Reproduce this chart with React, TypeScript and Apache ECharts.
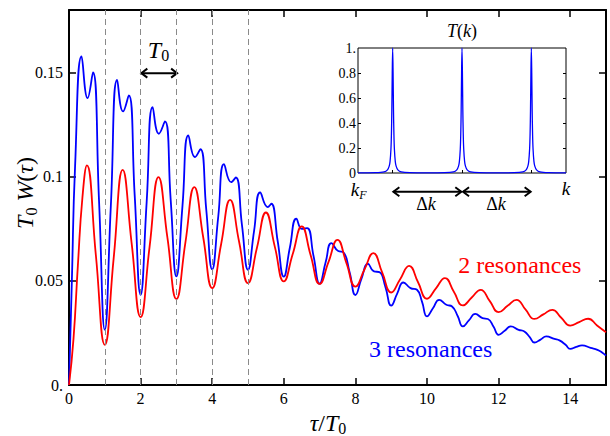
import React, { useEffect, useRef } from "react";
import * as echarts from "echarts";

// ---- main plot data ----
const redX = [0, 0.125, 0.25, 0.375, 0.5, 0.75, 1, 1.25, 1.5, 1.75, 2, 2.25, 2.5, 2.75, 3, 3.25, 3.5, 3.75, 4, 4.25, 4.5, 4.75, 5, 5.25, 5.5, 5.75, 6, 6.25, 6.5, 6.75, 7, 7.25, 7.5, 7.75, 8, 8.25, 8.5, 8.75, 9, 9.25, 9.5, 9.75, 10, 10.25, 10.5, 10.75, 11, 11.25, 11.5, 11.75, 12, 12.25, 12.5, 12.75, 13, 13.25, 13.5, 13.75, 14, 14.25, 14.5, 14.75, 15];
const redY = [0, 0.022, 0.058, 0.09, 0.1054, 0.0624, 0.0193, 0.0613, 0.1033, 0.068, 0.0326, 0.0662, 0.0998, 0.0706, 0.0413, 0.0682, 0.095, 0.0708, 0.0465, 0.0677, 0.0889, 0.0689, 0.0489, 0.0659, 0.0828, 0.0663, 0.0497, 0.0629, 0.0761, 0.0623, 0.0485, 0.0591, 0.0697, 0.0585, 0.0472, 0.0553, 0.0633, 0.0539, 0.0444, 0.0508, 0.0572, 0.0493, 0.0414, 0.0464, 0.0513, 0.0448, 0.0382, 0.042, 0.0457, 0.0404, 0.035, 0.038, 0.0409, 0.0363, 0.0317, 0.0339, 0.0361, 0.0323, 0.0285, 0.0302, 0.0318, 0.0286, 0.0253];

const blueX = [
  0, 0.08, 0.17, 0.35, 0.52, 0.67, 0.84,
  1, 1.17, 1.345, 1.51, 1.67, 1.835,
  2, 2.17, 2.336, 2.51, 2.68, 2.84,
  3, 3.17, 3.334, 3.52, 3.67, 3.835,
  4, 4.17, 4.33, 4.53, 4.66, 4.83,
  5, 5.17, 5.34, 5.55, 5.65, 5.83,
  6, 6.17, 6.35, 6.51, 6.65, 6.83,
  7, 7.17, 7.33, 7.52, 7.66, 7.84,
  8, 8.17, 8.35, 8.52, 8.67, 8.84,
  9, 9.17, 9.34, 9.54, 9.72, 9.86,
  10, 10.17, 10.34, 10.54, 10.7, 10.86,
  11, 11.17, 11.35, 11.55, 11.7, 11.86,
  12, 12.17, 12.34, 12.56, 12.72, 12.87,
  13, 13.17, 13.33, 13.56, 13.7, 13.87,
  14, 14.17, 14.33, 14.57, 14.76, 14.9,
  15,
];
const blueY = [
  0, 0.05, 0.105, 0.1577, 0.1377, 0.15, 0.088,
  0.0265, 0.0865, 0.1465, 0.1313, 0.139, 0.091,
  0.0433, 0.088, 0.1334, 0.1206, 0.1265, 0.089,
  0.0521, 0.086, 0.1198, 0.1094, 0.1132, 0.084,
  0.0555, 0.081, 0.106, 0.0974, 0.0996, 0.077,
  0.0553, 0.074, 0.0924, 0.0854, 0.087, 0.069,
  0.052, 0.066, 0.0798, 0.0749, 0.0753, 0.062,
  0.0486, 0.059, 0.0681, 0.0643, 0.0638, 0.054,
  0.0432, 0.051, 0.0582, 0.0545, 0.0542, 0.047,
  0.0381, 0.044, 0.0492, 0.0465, 0.0457, 0.04,
  0.0329, 0.037, 0.0409, 0.0385, 0.0377, 0.033,
  0.0281, 0.031, 0.0341, 0.0321, 0.0317, 0.028,
  0.0241, 0.026, 0.0281, 0.0265, 0.0257, 0.023,
  0.0204, 0.0218, 0.0233, 0.0221, 0.0214, 0.0193,
  0.0173, 0.0183, 0.019, 0.0178, 0.0169, 0.0155,
  0.0141,
];

// ---- inset T(k) data ----
const tkX = [0, 0.5, 0.75, 0.85, 0.9, 0.925, 0.95, 0.964, 0.976, 0.988, 1, 1.012, 1.024, 1.036, 1.05, 1.075, 1.1, 1.15, 1.25, 1.5, 2, 2.5, 2.75, 2.85, 2.9, 2.925, 2.95, 2.964, 2.976, 2.988, 3, 3.012, 3.024, 3.036, 3.05, 3.075, 3.1, 3.15, 3.25, 3.5, 4, 4.5, 4.75, 4.85, 4.9, 4.925, 4.95, 4.964, 4.976, 4.988, 5, 5.012, 5.024, 5.036, 5.05, 5.075, 5.1, 5.15, 5.25, 5.5, 6];
const tkY = [0.0006, 0.0023, 0.009, 0.025, 0.055, 0.093, 0.19, 0.31, 0.5, 0.8, 1, 0.8, 0.5, 0.31, 0.19, 0.093, 0.055, 0.025, 0.009, 0.0023, 0.0007, 0.0023, 0.009, 0.025, 0.055, 0.093, 0.19, 0.31, 0.5, 0.8, 1, 0.8, 0.5, 0.31, 0.19, 0.093, 0.055, 0.025, 0.009, 0.0023, 0.0007, 0.0023, 0.009, 0.025, 0.055, 0.093, 0.19, 0.31, 0.5, 0.8, 1, 0.8, 0.5, 0.31, 0.19, 0.093, 0.055, 0.025, 0.009, 0.0023, 0.0006];

// ---- ticks & labels ----
const xTickValues = [0, 2, 4, 6, 8, 10, 12, 14];
const xTickLabels = ["0", "2", "4", "6", "8", "10", "12", "14"];
const yTickValues = [0, 0.05, 0.1, 0.15];
const yTickLabels = ["0.", "0.05", "0.1", "0.15"];
const insetYTickValues = [0, 0.2, 0.4, 0.6, 0.8, 1];
const insetYTickLabels = ["0", "0.2", "0.4", "0.6", "0.8", "1."];
const insetYInnerTicks = [0.2, 0.4, 0.6, 0.8];
const insetXTickValues = [1, 3, 5];
const dashedX = [1, 2, 3, 4, 5];
const seriesNames = ["2 resonances", "3 resonances"];

const FONT = "Liberation Serif";

export default function App() {
  const ref = useRef<HTMLDivElement>(null);
  useEffect(() => {
    const el = ref.current!;
    const chart = echarts.init(el, null, { renderer: "svg" });
    const axisLine = { show: true, onZero: false, lineStyle: { color: "#000", width: 2 } };
    const tickStyle = { color: "#000", width: 1.5 };
    const redData = redX.map((x, i) => [x, redY[i]]);
    const blueData = blueX.map((x, i) => [x, blueY[i]]);
    const tkData = tkX.map((x, i) => [x, tkY[i]]);
    const thinTick = { color: "#000", width: 1 };

    chart.setOption({
      animation: false,
      backgroundColor: "#fff",
      grid: [
        { left: 69, right: 4, top: 10, bottom: 51, show: false },
        { left: 358, width: 208, top: 48, height: 125, show: true, backgroundColor: "#fff", borderColor: "#000", borderWidth: 1 },
      ],
      xAxis: [
        {
          gridIndex: 0, type: "value", min: 0, max: 15, position: "bottom", axisLine,
          axisTick: { inside: true, length: 7, lineStyle: tickStyle, customValues: xTickValues },
          axisLabel: { show: false }, splitLine: { show: false },
        },
        {
          gridIndex: 0, type: "value", min: 0, max: 15, position: "top", axisLine,
          axisTick: { inside: true, length: 7, lineStyle: tickStyle, customValues: xTickValues },
          axisLabel: { show: false }, splitLine: { show: false },
        },
        {
          gridIndex: 1, type: "value", min: 0, max: 6, position: "bottom", axisLine: { show: false },
          axisTick: { show: true, inside: true, length: 3, lineStyle: thinTick, customValues: insetXTickValues },
          axisLabel: { show: false }, splitLine: { show: false },
        },
      ],
      yAxis: [
        {
          gridIndex: 0, type: "value", min: 0, max: 0.18, position: "left", axisLine,
          axisTick: { inside: true, length: 7, lineStyle: tickStyle, customValues: yTickValues },
          axisLabel: { show: false }, splitLine: { show: false },
        },
        {
          gridIndex: 0, type: "value", min: 0, max: 0.18, position: "right", axisLine,
          axisTick: { inside: true, length: 7, lineStyle: tickStyle, customValues: yTickValues },
          axisLabel: { show: false }, splitLine: { show: false },
        },
        {
          gridIndex: 1, type: "value", min: 0, max: 1, position: "left", axisLine: { show: false },
          axisTick: { show: true, inside: true, length: 3, lineStyle: thinTick, customValues: insetYInnerTicks },
          axisLabel: { show: false }, splitLine: { show: false },
        },
        {
          gridIndex: 1, type: "value", min: 0, max: 1, position: "right", axisLine: { show: false },
          axisTick: { show: true, inside: true, length: 3, lineStyle: thinTick, customValues: insetYInnerTicks },
          axisLabel: { show: false }, splitLine: { show: false },
        },
      ],
      series: [
        {
          type: "line", xAxisIndex: 0, yAxisIndex: 0, data: [], z: 1, silent: true,
          markLine: {
            silent: true, symbol: ["none", "none"], label: { show: false },
            lineStyle: { color: "#8a8a8a", width: 1, type: [6, 4] },
            data: dashedX.map((x) => ({ xAxis: x })),
          },
        },
        {
          name: seriesNames[1], type: "line", xAxisIndex: 0, yAxisIndex: 0, data: blueData,
          showSymbol: false, smooth: 0.5, lineStyle: { color: "#0000ff", width: 1.8 }, z: 3,
        },
        {
          name: seriesNames[0], type: "line", xAxisIndex: 0, yAxisIndex: 0, data: redData,
          showSymbol: false, smooth: 0.5, lineStyle: { color: "#ff0000", width: 1.8 }, z: 4,
        },
        {
          type: "line", xAxisIndex: 2, yAxisIndex: 2, data: tkData,
          showSymbol: false, smooth: 0.3, lineStyle: { color: "#0000ff", width: 1.3 }, z: 6,
        },
      ],
    });

    const P = (x: number, y: number) => chart.convertToPixel({ xAxisIndex: 0, yAxisIndex: 0 }, [x, y]) as number[];
    const Q = (x: number, y: number) => chart.convertToPixel({ xAxisIndex: 2, yAxisIndex: 2 }, [x, y]) as number[];

    const arrow = (a: number[], b: number[], h: number) => [
      { type: "line", shape: { x1: a[0], y1: a[1], x2: b[0], y2: b[1] }, style: { stroke: "#000", lineWidth: 2 } },
      { type: "polyline", shape: { points: [[a[0] + h, a[1] - h * 0.75], [a[0], a[1]], [a[0] + h, a[1] + h * 0.75]] }, style: { stroke: "#000", lineWidth: 2, fill: null } },
      { type: "polyline", shape: { points: [[b[0] - h, b[1] - h * 0.75], [b[0], b[1]], [b[0] - h, b[1] + h * 0.75]] }, style: { stroke: "#000", lineWidth: 2, fill: null } },
    ];

    const txt = (p: number[], text: string, size: number, color: string, align: string, vAlign = "middle", rich?: any) => {
      const style: any = { text, fontFamily: FONT, fontSize: size, fill: color, align, verticalAlign: vAlign };
      if (rich) style.rich = rich;
      return { type: "text", x: p[0], y: p[1], style };
    };

    const richMath = (size: number, lh: number) => ({
      n: { fontFamily: FONT, fontSize: size, lineHeight: lh, fill: "#000" },
      i: { fontFamily: FONT, fontSize: size, fontStyle: "italic", lineHeight: lh, fill: "#000" },
      s: { fontFamily: FONT, fontSize: Math.round(size * 0.65), verticalAlign: "bottom", lineHeight: lh, fill: "#000" },
      si: { fontFamily: FONT, fontSize: Math.round(size * 0.65), fontStyle: "italic", verticalAlign: "bottom", lineHeight: lh, fill: "#000" },
    });

    const tickTexts: any[] = [
      ...xTickValues.map((v, i) => { const p = P(v, 0); return txt([p[0], p[1] + 5], xTickLabels[i], 16, "#000", "center", "top"); }),
      ...yTickValues.map((v, i) => { const p = P(0, v); return txt([p[0] - 6, p[1]], yTickLabels[i], 16, "#000", "right", "middle"); }),
      ...insetYTickValues.map((v, i) => { const p = Q(0, v); return txt([p[0] - 2, p[1]], insetYTickLabels[i], 14, "#000", "right", "middle"); }),
    ];

    const yTitle = txt([0, 0], "{i|T}{s|0}{n| }{i|W}{n|(}{i|τ}{n|)}", 24, "#000", "center", "middle", richMath(24, 28));

    const elements: any[] = [
      ...tickTexts,
      ...arrow(P(2.02, 0.1497), P(3.02, 0.1497), 6),
      txt(P(2.5, 0.161), "{i|T}{s|0}", 24, "#000", "center", "middle", richMath(24, 28)),
      txt(P(10.87, 0.0574), seriesNames[0], 24, "#ff0000", "left"),
      txt(P(8.38, 0.0172), seriesNames[1], 24, "#0000ff", "left"),
      { type: "group", x: 25, y: 193, rotation: Math.PI / 2, children: [yTitle] },
      txt([328, 423], "{i|τ}{n|/}{i|T}{s|0}", 24, "#000", "center", "middle", richMath(24, 26)),
      txt(Q(3, 1.14), "{i|T}{n|(}{i|k}{n|)}", 18, "#000", "center", "middle", richMath(18, 20)),
      txt(Q(0.02, -0.13), "{i|k}{si|F}", 19, "#000", "center", "middle", richMath(19, 24)),
      txt(Q(6, -0.12), "{i|k}", 19, "#000", "center", "middle", richMath(19, 22)),
      ...arrow(Q(1.02, -0.15), Q(2.98, -0.15), 6),
      ...arrow(Q(3.03, -0.15), Q(4.98, -0.15), 6),
      txt(Q(1.96, -0.245), "{n|Δ}{i|k}", 18, "#000", "center", "middle", richMath(18, 20)),
      txt(Q(3.98, -0.245), "{n|Δ}{i|k}", 18, "#000", "center", "middle", richMath(18, 20)),
    ];
    chart.setOption({ graphic: elements });

    return () => chart.dispose();
  }, []);
  return (
    <div
      ref={ref}
      style={{ position: "fixed", left: 0, top: 0, width: 610, height: 436, background: "#fff" }}
    />
  );
}
